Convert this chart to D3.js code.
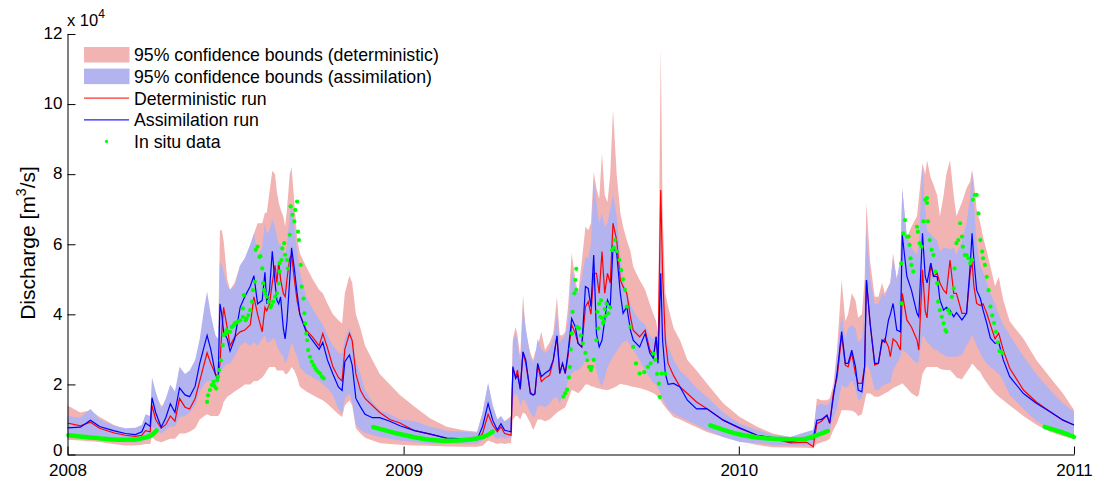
<!DOCTYPE html>
<html>
<head>
<meta charset="utf-8">
<script src="https://cdn.jsdelivr.net/npm/d3@7"></script>
<style>
  body { margin: 0; background: #fff; }
  text { font-family: "Liberation Sans", Arial, sans-serif; fill: #000; }
</style>
</head>
<body>
<svg id="chart"></svg>
<script>
// days since 2008-01-01, values in m3/s
const days = [
  0,14,25,35,50,63,74,81,85,90,
  92,96,102,107,112,117,122,128,133,139,
  144,149,152,156,161,164,166,168,170,174,
  177,182,188,193,199,203,207,212,215,217,
  220,223,226,228,230,232,235,237,239,242,
  244,247,250,253,260,267,274,278,283,289,
  295,299,302,307,310,314,319,324,332,340,
  351,362,378,395,413,431,446,452,458,463,
  468,472,476,483,485,488,490,493,496,499,
  504,507,509,512,516,520,525,529,533,536,
  539,542,545,549,553,556,560,564,567,570,
  573,576,579,582,585,588,591,594,598,602,
  605,609,613,616,623,629,634,638,641,643,
  646,648,651,654,660,667,675,685,696,714,
  732,751,768,787,805,812,816,821,827,830,
  834,838,843,847,850,854,858,861,865,868,
  870,874,879,883,887,890,894,896,899,903,
  907,909,914,919,925,927,931,934,936,940,
  943,947,950,954,957,961,965,968,974,979,
  983,985,987,990,994,997,1001,1005,1010,1014,
  1019,1026,1041,1055,1070,1084,1096
];

const detRun = [
  9000,8200,9200,7500,6200,5500,5200,5500,6800,6500,
  14000,10000,7500,8500,11000,9500,16000,13500,13000,16000,
  21000,26000,29000,26000,23000,22000,26000,35000,42000,36000,
  31000,33500,35000,35500,37000,45000,40000,35000,42000,41000,
  43000,49000,54000,49000,55000,50000,46000,45000,50000,56000,
  57000,50000,44000,40000,35500,33500,31000,34500,30500,25000,
  22000,21000,30000,34500,32500,23000,18300,16000,14000,12000,
  10000,9000,6800,5800,4600,4300,4200,6000,11500,8400,
  6500,7900,6000,5500,24500,22200,24100,18500,29300,26000,
  17800,17000,17200,25500,20800,21800,22600,27000,33700,23000,
  26000,23000,28000,37000,34500,31700,30700,42200,43600,40000,
  51700,51700,46000,57900,46000,51700,48900,66000,61200,49800,
  47900,46000,39300,35500,33600,35500,30000,28000,33600,27000,
  75500,51700,32600,26000,22500,19300,17400,15000,13100,9800,
  7400,5500,4600,3300,3500,2200,8800,9500,11200,8800,
  17500,22000,34000,25500,25000,29000,23000,20300,20300,25000,
  49800,37400,25500,26000,32000,33000,30700,27900,33000,32000,
  29800,46000,38400,36400,32700,29800,52700,41000,39000,54600,
  50800,51700,48900,46900,46000,55500,46000,46000,40300,40300,
  52000,55000,48000,43100,42500,43000,40300,37000,33000,34600,
  29800,24600,18400,15000,12200,9800,8400
];

const asmRun = [
  7600,7800,9800,8000,6800,6000,5700,6500,9000,8000,
  16200,12000,7800,10500,14500,12000,19000,17000,16500,19500,
  26000,31000,34000,30000,23000,21000,43000,40000,35000,33000,
  29500,33000,42000,45000,48000,51000,43000,44000,52000,43000,
  47000,58000,49000,44000,43000,45000,36000,33000,38000,50000,
  59000,53000,46000,40000,35000,32500,30000,32000,27000,23000,
  19300,18300,26500,28400,25500,16000,13600,11500,10500,10500,
  9500,8200,6800,5800,4700,4500,4300,8000,14500,9800,
  7000,8800,6900,6500,25100,21700,22700,18800,29300,27000,
  17400,17000,17400,26000,22200,23200,24100,27000,33900,23200,
  26000,23200,29000,38800,36400,31700,30700,47900,47400,42200,
  56900,34500,30700,32600,38300,44100,42200,59300,57400,46000,
  40300,42200,35500,32600,30700,34500,29000,27400,33600,26000,
  51700,32600,23100,20000,20300,19300,15500,13000,13100,9800,
  7600,5500,4800,3600,4500,4500,9800,10000,11200,9000,
  16500,23200,35100,26000,26000,29800,25100,18400,17900,25100,
  49800,37400,26000,26000,32700,32000,38400,40000,43100,35500,
  35000,62700,50800,46900,40300,39300,63100,50800,49000,54600,
  50800,50800,44100,41200,42000,41200,39300,40500,38400,40300,
  54100,63100,55500,46900,44500,41200,37400,33200,31700,32000,
  27000,22200,17400,14600,12200,9800,8400
];

const detLow = [
  4200,4000,3800,3600,3000,2600,2600,2800,3000,3000,
  5000,4000,3500,4000,4500,4500,6000,6000,6500,7500,
  10000,11000,11500,11000,11000,11000,11700,13000,15000,16500,
  17000,18000,19000,20000,20000,21000,21000,22000,23000,24000,
  25000,25000,25000,24000,24000,24000,24000,23000,23000,24000,
  25000,24000,22000,19300,18000,17000,16000,15500,14500,13000,
  11500,10700,14000,15500,14000,7500,6000,4800,4000,3300,
  3000,2800,2600,2500,2300,2200,2200,2500,4000,3500,
  3000,3200,3000,3300,10000,11000,11000,10000,12000,11500,
  9000,7000,8000,10000,10000,9500,10000,11000,12000,12500,
  13000,13500,15500,18500,18000,17500,18500,20000,20000,19500,
  19300,19000,18800,18600,18500,18400,18600,19000,19500,20200,
  20000,19800,19500,19300,19000,18500,18000,17500,17000,16200,
  15500,14500,13500,12500,10700,10000,9000,7800,6400,5000,
  3800,2700,2100,2000,1900,1800,3000,3500,4000,4500,
  7000,9000,12600,12600,12600,12500,12000,11000,11500,15000,
  17400,17400,16500,16500,17000,17500,18000,18400,19000,19500,
  20000,20300,19000,17500,16500,17000,23000,24500,25000,25000,
  25000,25000,24500,24200,24100,24100,23000,22000,21500,23500,
  25000,26000,25500,24500,23500,22000,20500,19000,17500,16500,
  15500,14000,11000,8500,6500,5200,4500
];

const detHigh = [
  14000,12000,12600,10700,8500,7200,7400,8000,9500,10000,
  20000,17000,14000,14000,17000,16000,25000,22000,22000,26000,
  32000,40000,43000,38000,34000,32000,64000,64000,61000,50000,
  47000,49000,54000,53000,58000,63000,66000,66000,69000,69000,
  75000,81000,80000,75000,72000,70000,68000,65000,70000,80000,
  82000,72000,62000,57400,53600,50000,47000,46000,43100,40000,
  38300,37400,46000,51000,49000,40000,36000,31000,27000,23000,
  20000,17000,13600,10300,7900,6900,6500,12000,20000,14000,
  10000,10500,9500,11000,33000,36400,34000,27900,45500,35000,
  29000,27000,29000,31000,35000,29800,32000,34600,45000,34000,
  34000,35000,42000,57400,50000,46000,55000,65000,64000,66000,
  80700,76000,73000,86000,74000,72000,80000,98400,80000,69000,
  65000,61200,58000,53600,49800,47000,43000,40000,38000,34600,
  116000,70000,46000,42200,36000,32600,27000,24000,20300,14600,
  10700,7900,6000,5000,6000,6000,16000,15500,15500,16000,
  20000,30000,49800,38000,40000,46000,44000,39000,40000,50000,
  71700,55000,45000,45000,49000,46000,48000,49000,57400,50000,
  55000,75500,62000,65000,68000,73000,83100,80000,84000,79000,
  77000,74000,68000,74000,80000,84000,74000,68000,72000,76000,
  78000,81200,78000,70000,66000,62000,58000,53600,48000,50700,
  44000,38000,33000,27000,22000,17400,12700
];

const asmLow = [
  5000,5000,5200,4800,3800,3500,3400,3600,4200,4500,
  8000,7000,6000,7000,8000,8000,10700,11000,12000,14000,
  18000,20000,21000,21000,20000,20000,23000,24000,25000,26000,
  26000,28000,31000,32000,31000,32000,31000,33000,34000,32000,
  32000,33000,33000,31000,30000,29000,28000,26000,27000,30000,
  32000,30000,28000,25000,23000,22000,21000,20000,19000,17000,
  13000,11700,16000,17400,15000,8500,7000,6200,5600,5000,
  4500,4000,3500,3100,3000,3000,3100,4000,6500,5500,
  4500,5000,4500,5000,16000,17400,17000,14000,16000,15000,
  12000,10700,11000,14000,14000,13500,14500,16000,16500,14500,
  17000,18000,21000,23100,24000,24000,25000,27000,27000,27000,
  26900,24000,21000,19300,22000,25000,26500,27900,29500,31000,
  32000,32600,31000,30000,27000,24000,22000,20500,20000,19000,
  17400,16000,14500,13000,11700,10700,9800,8400,7000,5000,
  3600,3200,2700,2500,2600,3000,4500,5500,6500,7000,
  10700,13000,20000,19000,19500,21200,19000,15500,16000,20000,
  26000,24000,18400,18400,19500,20000,20300,20500,24000,26000,
  28000,29800,29000,27500,26000,27000,34100,33000,32000,31000,
  30000,29800,29000,28500,28000,27900,27900,27900,28500,31000,
  33000,34100,33000,31000,29000,27500,26000,25000,24000,23000,
  21000,17000,13000,9500,7500,5800,4600
];

const asmHigh = [
  11000,10500,13000,10000,8300,7500,7600,8500,11500,11000,
  22000,18000,13000,16000,20000,18000,25000,23000,24000,27000,
  33000,42000,46500,40000,34000,33000,55000,54000,52000,48000,
  47000,48000,54000,56000,60000,63000,57000,59000,66000,63000,
  64000,67000,65000,62000,60000,60000,58000,56000,60000,68000,
  72000,65000,58000,52000,45000,41500,38500,37000,34000,31000,
  29000,28800,33000,36000,34000,27000,23000,18400,15000,12700,
  11500,10000,9500,7900,6800,6500,6200,12000,20500,14000,
  10000,11000,9500,10500,32000,34600,32000,26000,42200,36000,
  28000,26000,28000,33000,30000,29000,30000,33000,40300,32000,
  33000,34000,38000,52700,48000,46000,50000,56500,56000,60000,
  78400,72000,66000,68800,65000,66000,70000,74500,68000,56500,
  50000,46000,43000,41000,38300,37000,34000,33000,34000,32000,
  65000,45000,35000,31000,27000,24000,22000,19000,16500,12000,
  8800,7000,5600,5000,6500,7000,14000,14500,14000,15000,
  18000,29000,40000,33000,36000,37000,36000,32000,33000,42000,
  64000,50000,43000,43000,46000,45000,48000,49000,56000,50000,
  56000,76000,62000,59000,57000,60000,82200,70000,64000,63000,
  62000,61000,58000,59000,59000,58400,59000,57000,61000,66000,
  74000,81000,72000,60000,54000,52000,49000,46000,43000,40000,
  37000,34000,28000,23000,18400,14600,12200
];

// in situ data: scattered daily measurements
const obsDays = [
  152,153,155,157,159,160,162,163,164,165,167,169,170,172,173,175,177,179,181,182,
  184,186,188,191,191,192,194,195,197,199,201,202,204,205,207,209,210,212,213,214,
  215,217,219,221,222,224,226,228,230,231,231,233,234,236,237,239,240,242,243,245,
  247,248,250,251,252,254,255,257,258,259,260,261,262,264,266,268,270,271,273,275,
  277,279,
  540,542,544,546,547,548,549,550,552,553,554,554,555,557,559,561,564,566,568,570,
  571,573,576,577,578,579,580,581,582,583,584,585,586,587,589,591,593,595,596,598,
  601,603,605,607,609,613,616,619,623,628,632,635,638,640,642,644,645,647,651,
  908,908,910,912,914,916,917,918,919,921,925,926,928,930,932,934,936,936,937,939,
  941,943,945,947,948,950,952,954,956,957,959,961,963,965,966,968,970,972,974,975,
  977,979,981,983,985,986,988,990,992,994,996,997,999,1001,1003,1005,1007,1009,1011,1013,
  1015,1018
];
const obsVals = [
  15000,16900,18400,19800,20700,19500,18800,21200,22200,24100,26900,31200,34100,34500,35500,35000,35000,36400,36800,37400,
  37700,37900,38300,39300,41700,45500,38300,38800,39800,41200,43600,46900,49300,58400,59300,56400,56600,53100,48900,46900,
  46000,45000,43600,42000,42500,43600,45000,46000,48800,52200,54600,55500,58800,60300,57000,55500,53100,62700,70800,68400,
  66500,69800,72200,63600,61200,54100,47900,44500,40300,37400,34500,32600,29800,27900,26500,25500,24600,24100,23600,23100,
  22200,21700,
  16500,17500,18500,22000,25000,30000,34500,40700,46000,49800,47000,53000,36400,36000,34000,31700,29000,26900,25000,24100,
  25000,27000,32600,40700,36000,43000,39300,44000,39000,37500,38000,41500,39500,43000,40300,42000,58300,59000,61200,58000,
  55500,52600,50000,47000,42200,36400,30700,26000,23100,23500,25000,26000,28800,27000,23000,20200,16400,23100,23100,
  43100,54600,63100,66900,62200,62200,59800,56000,54100,52200,65000,63600,60300,59300,66500,72700,73200,71800,66500,61200,
  58400,56900,52200,48900,43600,41200,39300,37400,35500,35000,41200,40300,45000,47400,53100,60300,61200,66000,62200,59300,
  56900,56900,56000,54600,55500,72700,74100,74100,68800,61200,57900,56000,54100,50700,46900,42200,39700,37500,35000,32000,
  29500,29000
];

// in situ data: dense low-flow stretches
const obsRunDays = [
  [1,19,35,57,74,84,92,97],
  [333,359,387,413,438,457,463],
  [700,732,768,798,816,828],
  [1064,1081,1096]
];
const obsRunVals = [
  [5500,5000,4600,4200,4300,4800,5600,6800],
  [7800,6000,4500,3900,4300,5500,6500],
  [8300,5700,4500,4300,5500,6700],
  [7900,6500,5000]
];

const yTicks = [0, 20000, 40000, 60000, 80000, 100000, 120000];
const yearTicks = [2008, 2009, 2010, 2011];

const legendItems = [
  {label: "95% confidence bounds (deterministic)", kind: "patch", color: "#f2b3b3"},
  {label: "95% confidence bounds (assimilation)", kind: "patch", color: "#b3b3f0"},
  {label: "Deterministic run", kind: "line", color: "#ff3030"},
  {label: "Assimilation run", kind: "line", color: "#2020ff"},
  {label: "In situ data", kind: "dot", color: "#00ff00"}
];

const width = 1098, height = 480;
const t0 = new Date(2008, 0, 1);
const toDate = d => d3.timeDay.offset(t0, d);

const svg = d3.select("#chart").attr("width", width).attr("height", height);
svg.append("rect").attr("width", width).attr("height", height).attr("fill", "#fff");

const x = d3.scaleTime().domain([t0, new Date(2011, 0, 1)]).range([67.5, 1074]);
const y = d3.scaleLinear().domain([0, 120000]).range([454.5, 34]);

const rows = days.map((d, i) => ({
  t: toDate(d),
  det: detRun[i], asm: asmRun[i],
  dLo: detLow[i], dHi: detHigh[i],
  aLo: asmLow[i], aHi: asmHigh[i]
}));

// confidence bands
svg.append("path")
  .datum(rows)
  .attr("fill", "#f2b3b3")
  .attr("d", d3.area().x(d => x(d.t)).y0(d => y(d.dLo)).y1(d => y(d.dHi)));

svg.append("path")
  .datum(rows)
  .attr("fill", "#b3b3f0")
  .attr("d", d3.area().x(d => x(d.t)).y0(d => y(d.aLo)).y1(d => y(d.aHi)));

// model runs
svg.append("path")
  .datum(rows)
  .attr("fill", "none")
  .attr("stroke", "#ff0000")
  .attr("stroke-width", 1.2)
  .attr("d", d3.line().x(d => x(d.t)).y(d => y(d.det)));

svg.append("path")
  .datum(rows)
  .attr("fill", "none")
  .attr("stroke", "#0000ff")
  .attr("stroke-width", 1.2)
  .attr("d", d3.line().x(d => x(d.t)).y(d => y(d.asm)));

// observations
obsRunDays.forEach((run, k) => {
  svg.append("path")
    .datum(run.map((d, i) => [toDate(d), obsRunVals[k][i]]))
    .attr("fill", "none")
    .attr("stroke", "#00ff00")
    .attr("stroke-width", 4.5)
    .attr("stroke-linecap", "round")
    .attr("d", d3.line().curve(d3.curveMonotoneX).x(d => x(d[0])).y(d => y(d[1])));
});

svg.append("g")
  .selectAll("circle")
  .data(obsDays.map((d, i) => [toDate(d), obsVals[i]]))
  .join("circle")
  .attr("cx", d => x(d[0]))
  .attr("cy", d => y(d[1]))
  .attr("r", 2.1)
  .attr("fill", "#00ff00");

// axes
const axisY = d3.axisLeft(y)
  .tickValues(yTicks)
  .tickFormat(d => d / 10000)
  .tickSizeInner(-8)
  .tickSizeOuter(0)
  .tickPadding(5);

const axisX = d3.axisBottom(x)
  .tickValues(yearTicks.map(yr => new Date(yr, 0, 1)))
  .tickFormat(d3.timeFormat("%Y"))
  .tickSizeInner(-8)
  .tickSizeOuter(0)
  .tickPadding(9);

const gy = svg.append("g").attr("transform", "translate(67.5,0)").call(axisY);
const gx = svg.append("g").attr("transform", "translate(0,454.5)").call(axisX);
[gx, gy].forEach(g => {
  g.selectAll("path, line").attr("stroke", "#000").attr("stroke-width", 1);
  g.selectAll("text").attr("font-size", 17).attr("font-family", "Liberation Sans, Arial, sans-serif").attr("fill", "#000");
});
gy.selectAll(".tick text").attr("dy", "0.28em");
// lift the "0" label a little so it clears the "2008" label below it
gy.selectAll(".tick text").filter(d => d === 0).attr("dy", "0.05em");

// exponent label
const expo = svg.append("text").attr("x", 67).attr("y", 26).attr("font-size", 16.5);
expo.append("tspan").text("x 10");
expo.append("tspan").attr("font-size", 12).attr("dy", -8).text("4");

// y axis title
const ylab = svg.append("text")
  .attr("transform", "translate(35,243) rotate(-90)")
  .attr("text-anchor", "middle")
  .attr("font-size", 21);
ylab.append("tspan").text("Discharge [m");
ylab.append("tspan").attr("font-size", 14).attr("dy", -9).text("3");
ylab.append("tspan").attr("dy", 9).text("/s]");

// legend
const legend = svg.append("g");
legendItems.forEach((item, i) => {
  const cy = 55 + i * 21.6;
  if (item.kind === "patch") {
    legend.append("rect").attr("x", 84).attr("y", cy - 8).attr("width", 45.5).attr("height", 15.5).attr("fill", item.color);
  } else if (item.kind === "line") {
    legend.append("line").attr("x1", 84).attr("x2", 129).attr("y1", cy).attr("y2", cy)
      .attr("stroke", item.color).attr("stroke-width", 1.2);
  } else {
    legend.append("circle").attr("cx", 106.5).attr("cy", cy).attr("r", 1.6).attr("fill", item.color);
  }
  legend.append("text").attr("x", 134).attr("y", cy + 6.3).attr("font-size", 17.7).text(item.label);
});
</script>
</body>
</html>
